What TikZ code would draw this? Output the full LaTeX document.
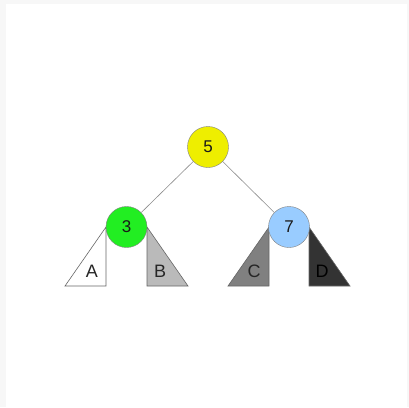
\documentclass[tikz,border=0pt]{standalone}
\usepackage{fontspec}
\setmainfont{Liberation Sans}
\usepackage{tikz}
\usetikzlibrary{positioning}

\definecolor{keyyellow}{RGB}{238,238,0}
\definecolor{keygreen}{RGB}{34,238,34}
\definecolor{keyblue}{RGB}{153,204,255}

\begin{document}
\begin{tikzpicture}[x=1pt,y=-1pt]
	\tikzset{
		key/.style={circle,draw=gray,minimum size=41pt,inner sep=0pt,font=\fontsize{17}{17}\selectfont,text=black!90},
		subtree/.style={draw=black!60,line width=0.6pt},
		leaf/.style={font=\fontsize{18}{18}\selectfont,text=black!85},
		link/.style={draw=gray!90,line width=0.6pt}
	}
	% page
	\fill[black!3] (0,0) rectangle (409,407);
	\fill[white] (6,4) rectangle (407,407);
	\useasboundingbox (0,0) rectangle (409,407);

	% subtrees sit behind the keys
	\coordinate (l3) at (106,227);
	\coordinate (r3) at (147,227);
	\coordinate (l7) at (269,227);
	\coordinate (r7) at (309,227);
	\filldraw[subtree,fill=white] (l3) -- ++(0,59) -- ++(-41,0) -- cycle;
	\filldraw[subtree,fill=black!27] (r3) -- ++(0,59) -- ++(41,0) -- cycle;
	\filldraw[subtree,fill=black!50] (l7) -- ++(0,59) -- ++(-41,0) -- cycle;
	\filldraw[subtree,fill=black!80] (r7) -- ++(0,59) -- ++(41,0) -- cycle;
	\node[leaf] (A) at (92,271) {A};
	\node[leaf] (B) at (160,271) {B};
	\node[leaf] (C) at (254,271) {C};
	\node[leaf,text=black] (D) at (322,271) {D};

	% keys
	\node[key,fill=keyyellow] (n5) at (208,147) {5};
	\node[key,fill=keygreen] (n3) at (126.5,227) {3};
	\node[key,fill=keyblue] (n7) at (289,227) {7};
	\path[link]
		(n5) edge (n3)
		(n5) edge (n7);
\end{tikzpicture}
\end{document}
